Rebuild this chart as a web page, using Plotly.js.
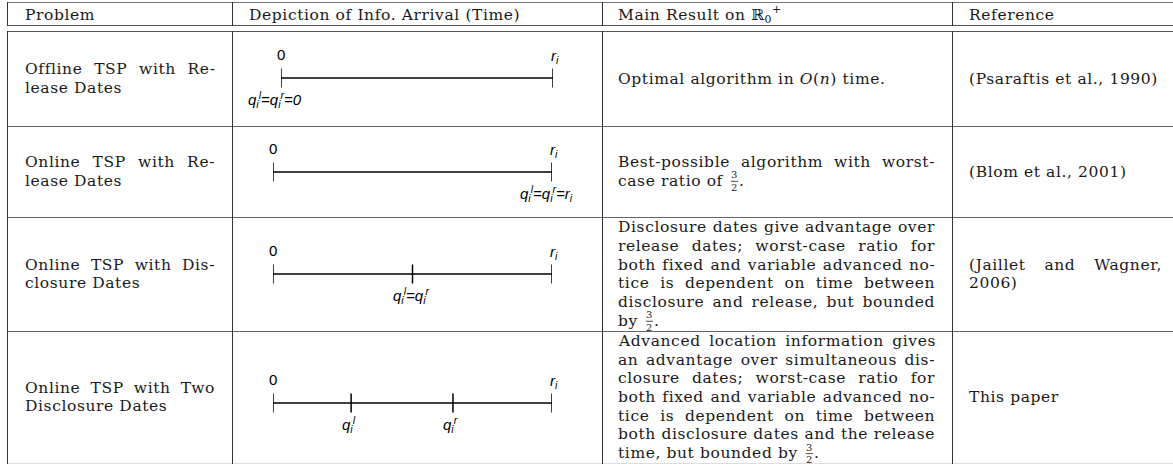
<!DOCTYPE html>
<html><head><meta charset="utf-8">
<script src="https://cdn.plot.ly/plotly-3.0.1.min.js"></script>
<style>html,body{margin:0;padding:0;background:#fff;}</style>
</head><body><div id="chart" style="width:1173px;height:464px;"></div>
<script>
// ---------------- data ----------------
const headers = ['Problem', 'Depiction of Info. Arrival (Time)', 'Main Result on ℝ<sub>0</sub><sup>+</sup>', 'Reference'];
const problems = [
  ['Offline TSP with Re-', 'lease Dates'],
  ['Online TSP with Re-', 'lease Dates'],
  ['Online TSP with Dis-', 'closure Dates'],
  ['Online TSP with Two', 'Disclosure Dates']
];
const results = [
  ['Optimal algorithm in <i>O</i>(<i>n</i>) time.'],
  ['Best-possible algorithm with worst-', 'case ratio of {3/2}.'],
  ['Disclosure dates give advantage over', 'release dates; worst-case ratio for',
   'both fixed and variable advanced no-', 'tice is dependent on time between',
   'disclosure and release, but bounded', 'by {3/2}.'],
  ['Advanced location information gives', 'an advantage over simultaneous dis-',
   'closure dates; worst-case ratio for', 'both fixed and variable advanced no-',
   'tice is dependent on time between', 'both disclosure dates and the release',
   'time, but bounded by {3/2}.']
];
const references = [
  ['(Psaraftis et al., 1990)'],
  ['(Blom et al., 2001)'],
  ['(Jaillet and Wagner,', '2006)'],
  ['This paper']
];
// timeline events, as a fraction of the release time r_i
const tickTimes = [[0, 1], [0, 1], [0, 0.5, 1], [0, 0.28, 0.645, 1]];
const startLabels = ['0', '0', '0', '0'];
const releaseLabels = ['<i>r<sub>i</sub></i>', '<i>r<sub>i</sub></i>', '<i>r<sub>i</sub></i>', '<i>r<sub>i</sub></i>'];
const infoTimes = [[0], [1], [0.5], [0.28, 0.645]];
const infoLabels = [
  ['<i>q<sub>i</sub><sup>l</sup>=q<sub>i</sub><sup>r</sup>=0</i>'],
  ['<i>q<sub>i</sub><sup>l</sup>=q<sub>i</sub><sup>r</sup>=r<sub>i</sub></i>'],
  ['<i>q<sub>i</sub><sup>l</sup>=q<sub>i</sub><sup>r</sup></i>'],
  ['<i>q<sub>i</sub><sup>l</sup></i>', '<i>q<sub>i</sub><sup>r</sup></i>']
];

// ---------------- layout constants ----------------
const W = 1173, H = 464;
const SERIF = '"DejaVu Serif", serif';
const SANS = '"Liberation Sans", Arial, sans-serif';
const FS = 15.5, LS = 0.6, LINE = 18.7;
const TXT = '#1a1a1a';
const vLines = [7, 232, 602, 952];
const hTop = 2, hHead = [25, 31], rowEdges = [31, 126, 217, 331, 463];
const textX = [25, 249, 618, 969];
const textR = [215, null, 935, 1162];
const tlX = [[281, 553], [273, 552], [273, 552], [273, 552]];
const tlY = [78, 172, 274, 403];

const ctx = document.createElement('canvas').getContext('2d');
function mw(s, size) {
  ctx.font = size + 'px "DejaVu Serif"';
  return ctx.measureText(s).width + LS * Array.from(s).length;
}

const annotations = [];
const shapes = [];
function ann(x, y, text, o) {
  annotations.push(Object.assign({
    xref: 'x', yref: 'y', x: x, y: y, text: text, showarrow: false,
    xanchor: 'left', yanchor: 'middle', align: 'left', borderpad: 0, borderwidth: 0,
    font: {family: SERIF, size: FS, color: TXT}
  }, o || {}));
}
function hline(x0, x1, y, color, w) {
  shapes.push({type: 'line', xref: 'x', yref: 'y', x0: x0, x1: x1, y0: y + 0.5, y1: y + 0.5,
    line: {color: color, width: w || 1}});
}
function vline(x, y0, y1, color, w) {
  shapes.push({type: 'line', xref: 'x', yref: 'y', x0: x + 0.5, x1: x + 0.5, y0: y0, y1: y1,
    line: {color: color, width: w || 1}});
}

// grid
hline(vLines[0], W, hTop, '#777');
hline(vLines[0], W, hHead[0], '#555');
hline(vLines[0], W, hHead[1], '#555');
for (let i = 1; i < rowEdges.length - 1; i++) hline(vLines[0], W, rowEdges[i], '#666');
hline(vLines[0], W, rowEdges[rowEdges.length - 1], '#ddd');
vLines.forEach(x => { vline(x, hTop, hHead[0] + 1, '#333'); vline(x, hHead[1], H, '#333'); });

// header
headers.forEach((h, c) => ann(textX[c], (hTop + hHead[0]) / 2 + 1,
  '<span style="letter-spacing:' + LS + 'px">' + h + '</span>'));

// paragraph writer
function paragraph(lines, col, cy) {
  const n = lines.length;
  lines.forEach((ln, i) => {
    const y = cy + (i - (n - 1) / 2) * LINE;
    const x = textX[col];
    const fm = ln.match(/^(.*)\{(\d+)\/(\d+)\}(.*)$/);
    if (fm) {
      const before = fm[1];
      ann(x, y, '<span style="letter-spacing:' + LS + 'px">' + before + '</span>');
      const xf = x + mw(before, FS) + 2;
      ann(xf + 4, y - 6, fm[2], {xanchor: 'center', font: {family: SERIF, size: 10, color: TXT}});
      ann(xf + 4, y + 6.5, fm[3], {xanchor: 'center', font: {family: SERIF, size: 10, color: TXT}});
      shapes.push({type: 'line', xref: 'x', yref: 'y', x0: xf + 0.5, x1: xf + 7.5, y0: y + 0.5, y1: y + 0.5,
        line: {color: TXT, width: 0.8}});
      ann(xf + 9, y, fm[4]);
      return;
    }
    let style = 'letter-spacing:' + LS + 'px';
    if (i < n - 1 && textR[col] !== null) {
      const gaps = (ln.match(/ /g) || []).length;
      if (gaps > 0) {
        const ws = (textR[col] - x - mw(ln, FS)) / gaps;
        style += ';word-spacing:' + ws.toFixed(2) + 'px';
      }
    }
    ann(x, y, '<span style="' + style + '">' + ln + '</span>');
  });
}

const data = [];
const layout = {
  width: W, height: H, margin: {l: 0, r: 0, t: 0, b: 0},
  paper_bgcolor: '#fff', plot_bgcolor: 'rgba(0,0,0,0)', showlegend: false,
  xaxis: {range: [0, W], visible: false, fixedrange: true},
  yaxis: {range: [H, 0], visible: false, fixedrange: true},
  annotations: annotations, shapes: shapes
};

for (let r = 0; r < 4; r++) {
  const cy = (rowEdges[r] + rowEdges[r + 1]) / 2;
  paragraph(problems[r], 0, cy);
  paragraph(results[r], 2, cy);
  paragraph(references[r], 3, cy);

  const ax = 'x' + (r + 2);
  layout['xaxis' + (r + 2)] = {domain: [tlX[r][0] / W, tlX[r][1] / W], range: [0, 1],
    visible: false, fixedrange: true, anchor: 'y'};
  const t = tickTimes[r], yc = tlY[r];
  data.push({type: 'scatter', mode: 'lines', xaxis: ax, yaxis: 'y', cliponaxis: false,
    x: [t[0], t[t.length - 1]], y: [yc, yc], line: {color: '#000', width: 1.7}, hoverinfo: 'skip'});
  const tx = [], ty = [];
  t.forEach(v => { tx.push(v, v, null); ty.push(yc - 9.5, yc + 9.5, null); });
  data.push({type: 'scatter', mode: 'lines', xaxis: ax, yaxis: 'y', cliponaxis: false,
    x: tx, y: ty, line: {color: '#000', width: 1.5}, hoverinfo: 'skip'});

  const lf = {family: SANS, size: 15, color: '#000'};
  ann(t[0], yc - 24, startLabels[r], {xref: ax, xanchor: 'center', font: lf});
  ann(t[t.length - 1], yc - 22, releaseLabels[r], {xref: ax, xanchor: 'center', xshift: 2, font: lf});
  infoTimes[r].forEach((v, k) => {
    const shift = (r <= 1) ? -6 : -2;
    ann(v, yc + 21, infoLabels[r][k], {xref: ax, xanchor: 'center', xshift: shift, font: lf});
  });
}

Plotly.newPlot('chart', data, layout, {staticPlot: true, displayModeBar: false});
</script>
</body></html>
